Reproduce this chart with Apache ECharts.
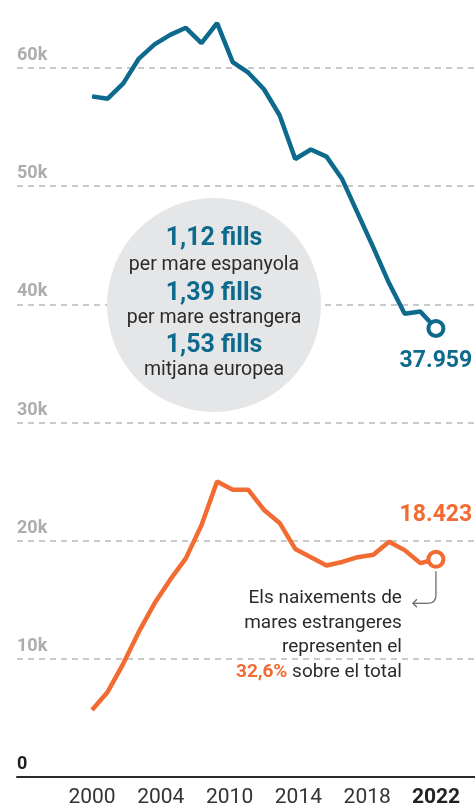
<!DOCTYPE html>
<html>
<head>
<meta charset="utf-8">
<script src="https://cdn.jsdelivr.net/npm/echarts@6/dist/echarts.min.js"></script>
<style>
  html, body { margin: 0; padding: 0; background: #fff; }
  #main { width: 475px; height: 812px; }
</style>
</head>
<body>
<div id="main"></div>
<script>
// naixements a Catalunya segons origen de la mare
const years = [2000, 2001, 2002, 2003, 2004, 2005, 2006, 2007, 2008, 2009, 2010, 2011,
  2012, 2013, 2014, 2015, 2016, 2017, 2018, 2019, 2020, 2021, 2022];
const spanishMothers = [57600, 57400, 58700, 60800, 62000, 62800, 63400, 62100, 63800, 60500, 59600, 58200,
  56000, 52300, 53100, 52500, 50600, 47700, 44800, 41800, 39200, 39400, 37959];
const foreignMothers = [5670, 7200, 9600, 12300, 14700, 16700, 18500, 21300, 25000, 24300, 24300, 22600,
  21500, 19300, 18600, 17900, 18200, 18600, 18800, 19900, 19200, 18100, 18423];
const xTickLabels = ['2000', '2004', '2010', '2014', '2018', '2022'];
const lastLabels = ['37.959', '18.423'];

const BLUE = '#0d6a8d';
const ORANGE = '#f26b32';
const FONT = 'Roboto, "Liberation Sans", sans-serif';

function lineData(values, color, label, labelPos, labelDist) {
  return values.map((v, i) => {
    if (i < values.length - 1) return [years[i], v];
    return {
      value: [years[i], v],
      symbol: 'circle',
      symbolSize: 15,
      itemStyle: { color: '#fff', borderColor: color, borderWidth: 4 },
      label: {
        show: true, position: labelPos, distance: labelDist,
        formatter: label, color: color, fontFamily: FONT,
        fontWeight: 'bold', fontSize: 23
      }
    };
  });
}

const chart = echarts.init(document.getElementById('main'));

const option = {
  animation: false,
  grid: [
    { left: 17, right: 0, top: 68, bottom: 35 },
    { left: 92, right: 39, top: 776, height: 1 }
  ],
  xAxis: [
    {
      type: 'value', gridIndex: 0, min: 1995.2, max: 2024.5,
      axisLine: { show: true, onZero: false, lineStyle: { color: '#2b2b2b', width: 2 } },
      axisTick: { show: false }, axisLabel: { show: false }, splitLine: { show: false }
    },
    {
      type: 'category', gridIndex: 1, data: xTickLabels, boundaryGap: false,
      axisLine: { show: false }, axisTick: { show: false },
      axisLabel: {
        interval: 0, margin: 10, color: '#333', fontFamily: FONT, fontSize: 21,
        formatter: v => v === '2022' ? '{b|' + v + '}' : v,
        rich: { b: { fontWeight: 'bold', fontSize: 21, color: '#222', fontFamily: FONT } }
      }
    }
  ],
  yAxis: [
    {
      type: 'value', gridIndex: 0, min: 0, max: 60000, interval: 10000,
      axisLine: { show: false }, axisTick: { show: false },
      splitLine: { lineStyle: { color: '#b8b8b8', width: 1.5, type: [6, 5] } },
      axisLabel: {
        inside: true, margin: 0, verticalAlign: 'bottom',
        formatter: v => v === 0 ? '{z|0}' : '{k|' + (v / 1000) + 'k}',
        rich: {
          z: { color: '#1f1f1f', fontWeight: 'bold', fontSize: 18, fontFamily: FONT, lineHeight: 18, padding: [0, 0, 7, 0] },
          k: { color: '#adadaf', fontWeight: 'bold', fontSize: 18, fontFamily: FONT, lineHeight: 18, padding: [0, 0, 7, 0] }
        }
      }
    },
    { type: 'value', gridIndex: 1, show: false }
  ],
  series: [
    {
      type: 'line', xAxisIndex: 0, yAxisIndex: 0, clip: false, z: 5,
      symbol: 'none',
      lineStyle: { color: BLUE, width: 4.5 },
      itemStyle: { color: BLUE },
      data: lineData(spanishMothers, BLUE, lastLabels[0], 'bottom', 12)
    },
    {
      type: 'line', xAxisIndex: 0, yAxisIndex: 0, clip: false, z: 5,
      symbol: 'none',
      lineStyle: { color: ORANGE, width: 4.5 },
      itemStyle: { color: ORANGE },
      data: lineData(foreignMothers, ORANGE, lastLabels[1], 'top', 23)
    }
  ]
};

chart.setOption(option);

// bombolla amb la fecunditat
const cx = 214, cy = 305;
const bubbleLines = [
  ['1,12 fills', true, 239], ['per mare espanyola', false, 265],
  ['1,39 fills', true, 294], ['per mare estrangera', false, 318],
  ['1,53 fills', true, 346], ['mitjana europea', false, 370]
];
const graphics = [
  { type: 'circle', shape: { cx: cx, cy: cy, r: 107 }, style: { fill: '#e5e6e8' }, z: 2 }
];
bubbleLines.forEach(([t, big, y]) => {
  graphics.push({
    type: 'text', x: cx, y: y, z: 3,
    style: {
      text: t, align: 'center', verticalAlign: 'middle',
      fill: big ? BLUE : '#2b2b2b',
      font: (big ? 'bold 25px ' : '19.5px ') + FONT
    }
  });
});

// nota sobre el darrer punt taronja
const last = chart.convertToPixel({ seriesIndex: 1 }, [years[years.length - 1], foreignMothers[foreignMothers.length - 1]]);
const px = last[0], py = last[1];
const arrowStyle = { stroke: '#6b6b6b', lineWidth: 1.3, fill: null };
graphics.push(
  { type: 'line', z: 3, shape: { x1: px, y1: py + 12, x2: px, y2: py + 36 }, style: arrowStyle },
  { type: 'bezierCurve', z: 3, shape: { x1: px, y1: py + 36, cpx1: px, cpy1: py + 44, x2: px - 8, y2: py + 44 }, style: arrowStyle },
  { type: 'line', z: 3, shape: { x1: px - 8, y1: py + 44, x2: px - 23, y2: py + 44 }, style: arrowStyle },
  { type: 'polyline', z: 3, shape: { points: [[px - 19, py + 40], [px - 23, py + 44], [px - 19, py + 48]] }, style: arrowStyle }
);
graphics.push({
  type: 'text', x: px - 34, y: py + 27, z: 3,
  style: {
    text: 'Els naixements de\nmares estrangeres\nrepresenten el\n{o|32,6%} sobre el total',
    align: 'right', verticalAlign: 'top',
    fill: '#2b2b2b', font: '19px ' + FONT, lineHeight: 24.5,
    rich: { o: { fill: ORANGE, fontWeight: 'bold', fontSize: 19, fontFamily: FONT, lineHeight: 24.5 } }
  }
});

chart.setOption({ graphic: graphics });
</script>
</body>
</html>
